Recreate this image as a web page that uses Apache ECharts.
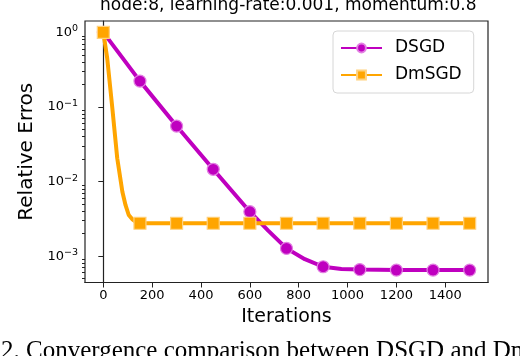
<!DOCTYPE html>
<html>
<head>
<meta charset="utf-8">
<script src="https://cdn.jsdelivr.net/npm/echarts@6/dist/echarts.min.js"></script>
<style>
  html, body { margin: 0; padding: 0; background: #fff; }
  #chart { width: 520px; height: 356px; }
</style>
</head>
<body>
<div id="chart"></div>
<script>
  // values (markers every 150 iterations, extra points trace the curve)
  const dsgdIters = [0, 150, 300, 450, 600, 675, 750, 825, 900, 975, 1050, 1200, 1350, 1500];
  const dsgdErr = [1.0, 0.222, 0.0554, 0.0146, 0.00394, 0.0022, 0.00127, 0.00091, 0.00072, 0.00067, 0.00066, 0.00065, 0.00065, 0.00065];

  const dmsgdIters = [0, 16, 37, 57, 78, 91, 104, 118, 132, 150, 300, 450, 600, 750, 900, 1050, 1200, 1350, 1500];
  const dmsgdErr = [1.0, 0.448, 0.0957, 0.0205, 0.0073, 0.00482, 0.00356, 0.00314, 0.00289, 0.00276, 0.00276, 0.00276, 0.00276, 0.00276, 0.00276, 0.00276, 0.00276, 0.00276, 0.00276];

  const xTicks = [0, 200, 400, 600, 800, 1000, 1200, 1400];
  const yTicks = [0.001, 0.01, 0.1, 1];
  const yMinor = [];
  [0.0001, 0.001, 0.01, 0.1].forEach(function (d) {
    for (let k = 2; k <= 9; k++) yMinor.push(+(d * k).toPrecision(3));
  });

  function powLabel(v) {
    const e = Math.round(Math.log10(v));
    return "{b|10}{s|" + (e < 0 ? "\u2212" + (-e) : e) + "}";
  }

  const markEvery = 150;
  function pts(xs, ys, sym) {
    return xs.map(function (x, i) {
      return { value: [x, ys[i]], symbol: x % markEvery === 0 ? sym : "none" };
    });
  }

  const font = "DejaVu Sans";
  const chart = echarts.init(document.getElementById("chart"));
  chart.setOption({
    animation: false,
    grid: {
      left: 85, top: 21, right: 32, bottom: 73.5,
      show: true, borderColor: "#222", borderWidth: 1.2
    },
    legend: {
      orient: "vertical",
      left: 333, top: 31,
      backgroundColor: "#fff",
      borderColor: "#d6d6d6", borderWidth: 1, borderRadius: 4,
      padding: [8, 12, 9, 7],
      itemWidth: 41, itemHeight: 11, itemGap: 9,
      textStyle: { fontFamily: font, fontSize: 17, color: "#000", padding: [0, 0, 0, 8], lineHeight: 18 },
      data: ["DSGD", "DmSGD"]
    },
    xAxis: {
      type: "value",
      min: -75, max: 1575,
      name: "Iterations",
      nameLocation: "middle",
      nameGap: 23,
      nameTextStyle: { fontFamily: font, fontSize: 19, color: "#000" },
      axisLine: { lineStyle: { color: "#222", width: 1.2 } },
      axisTick: { customValues: xTicks, length: 5, lineStyle: { color: "#222" } },
      axisLabel: {
        customValues: xTicks, margin: 7, fontFamily: font, fontSize: 13, color: "#000",
        formatter: function (v) { return String(v); }
      },
      splitLine: { show: false }
    },
    yAxis: [
      {
        type: "log",
        min: 4.43e-4, max: 1.42,
        name: "Relative Erros",
        nameLocation: "middle",
        nameGap: 42,
        nameTextStyle: { fontFamily: font, fontSize: 20, color: "#000" },
        axisLine: { show: true, lineStyle: { color: "#222", width: 1.2 } },
        axisTick: { customValues: yTicks, length: 5, lineStyle: { color: "#222" } },
        axisLabel: {
          customValues: yTicks, margin: 7, color: "#000", formatter: powLabel,
          rich: {
            b: { fontFamily: font, fontSize: 13, color: "#000" },
            s: { fontFamily: font, fontSize: 9.5, color: "#000", verticalAlign: "bottom", padding: [0, 0, 7, 0] }
          }
        },
        splitLine: { show: false }
      },
      {
        type: "log",
        min: 4.43e-4, max: 1.42,
        position: "left",
        axisLine: { show: false },
        axisTick: { customValues: yMinor, length: 3, lineStyle: { color: "#222" } },
        axisLabel: { show: false },
        splitLine: { show: false }
      }
    ],
    series: [
      {
        name: "DSGD",
        type: "line",
        symbol: "circle",
        data: pts(dsgdIters, dsgdErr, "circle"),
        symbolSize: 12,
        lineStyle: { color: "#bf00bf", width: 4 },
        itemStyle: { color: "#bf00bf", borderColor: "#e27fe2", borderWidth: 1.2 }
      },
      {
        name: "DmSGD",
        type: "line",
        symbol: "rect",
        data: pts(dmsgdIters, dmsgdErr, "rect"),
        symbolSize: 12,
        lineStyle: { color: "#ffa500", width: 4, join: "round" },
        itemStyle: { color: "#ffa500", borderColor: "#ffd27f", borderWidth: 1.2 }
      }
    ],
    graphic: [
      {
        type: "text",
        left: 100, top: -3,
        style: { text: "node:8, learning-rate:0.001, momentum:0.8", font: "17px 'DejaVu Sans'", fill: "#000" }
      },
      {
        type: "text",
        left: 1, top: 339,
        style: { text: "2. Convergence comparison between DSGD and DmSGD", font: "25px 'Liberation Serif'", fill: "#000" }
      }
    ]
  });
</script>
</body>
</html>
